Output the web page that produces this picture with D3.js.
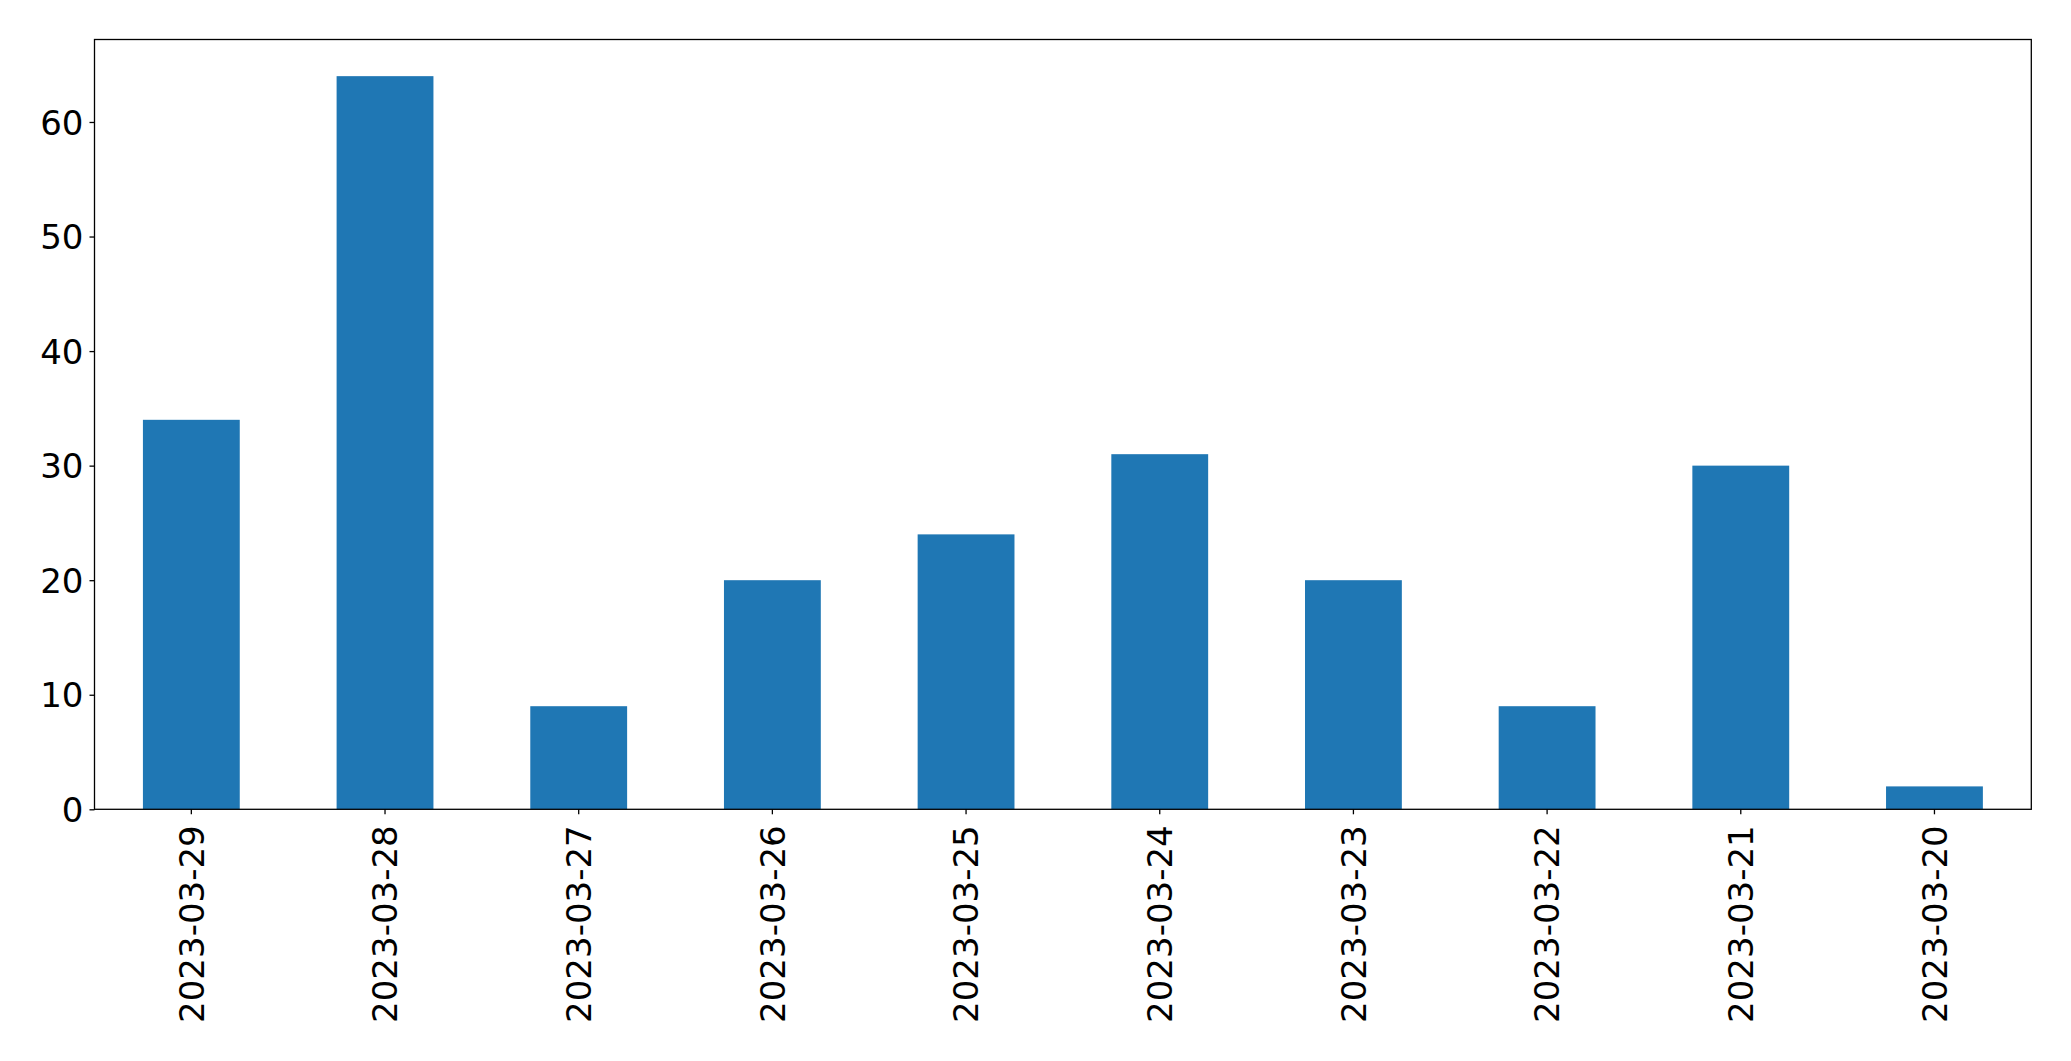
<!DOCTYPE html>
<html><head><meta charset="utf-8">
<script src="https://d3js.org/d3.v7.min.js"></script>
<style>body{margin:0;background:#fff;} text{font-family:"DejaVu Sans",sans-serif;fill:#000;}</style>
</head><body>
<script>
const categories = ["2023-03-29","2023-03-28","2023-03-27","2023-03-26","2023-03-25","2023-03-24","2023-03-23","2023-03-22","2023-03-21","2023-03-20"];
const values = [34, 64, 9, 20, 24, 31, 20, 9, 30, 2];
const yTicks = [0, 10, 20, 30, 40, 50, 60];

const W = 2071, H = 1061;
const m = {left: 94.5, right: 2031.3, top: 39.5, bottom: 809.3};
const fs = 34;

const svg = d3.select("body").append("svg").attr("width", W).attr("height", H);

const x = d3.scaleBand().domain(categories).range([m.left, m.right]).paddingInner(0.5).paddingOuter(0.25);
const y = d3.scaleLinear().domain([0, d3.max(values) * 1.05]).range([m.bottom, m.top]);

svg.selectAll("rect.bar").data(values).join("rect")
  .attr("class", "bar")
  .attr("x", (d, i) => x(categories[i]))
  .attr("width", x.bandwidth())
  .attr("y", d => y(d))
  .attr("height", d => y(0) - y(d))
  .attr("fill", "#1f77b4");

// frame
svg.append("rect").attr("x", m.left).attr("y", m.top)
  .attr("width", m.right - m.left).attr("height", m.bottom - m.top)
  .attr("fill", "none").attr("stroke", "#000").attr("stroke-width", 1.3);

// y axis
const yAxis = d3.axisLeft(y).tickValues(yTicks).tickSize(5).tickPadding(6).tickFormat(d3.format("d"));
const gy = svg.append("g").attr("transform", `translate(${m.left},0)`).call(yAxis);
gy.select(".domain").remove();
gy.selectAll(".tick line").attr("stroke", "#000").attr("stroke-width", 1.3);
gy.selectAll(".tick text").attr("font-size", fs).attr("font-family", "DejaVu Sans").attr("fill", "#000").attr("dy", "0.36em");

// x axis
const xAxis = d3.axisBottom(x).tickSize(5).tickPadding(0);
const gx = svg.append("g").attr("transform", `translate(0,${m.bottom})`).call(xAxis);
gx.select(".domain").remove();
gx.selectAll(".tick line").attr("stroke", "#000").attr("stroke-width", 1.3);
gx.selectAll(".tick text")
  .attr("font-size", fs).attr("font-family", "DejaVu Sans").attr("fill", "#000")
  .attr("text-anchor", "end")
  .attr("transform", "translate(0,16) rotate(-90)")
  .attr("x", 0).attr("y", 0).attr("dy", "0.36em");
</script>
</body></html>
